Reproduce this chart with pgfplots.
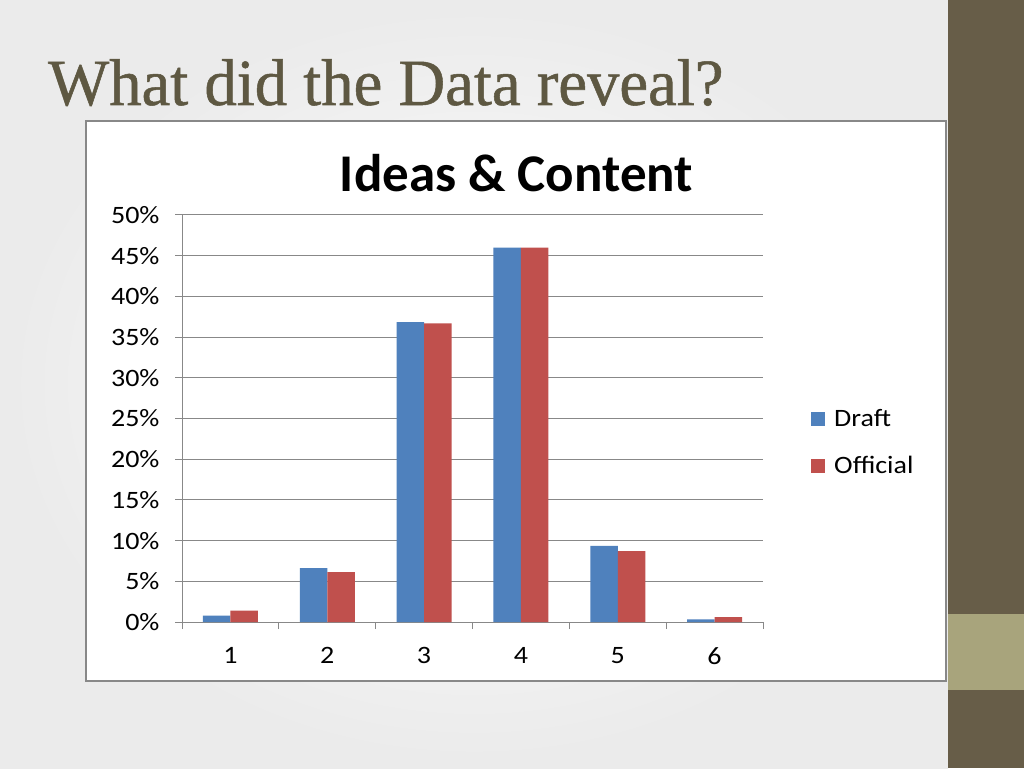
\documentclass[border=0pt]{standalone}
\usepackage{fontspec}
\usepackage{pgfplots}
\pgfplotsset{compat=1.18}
\setmainfont{Carlito}
\newfontfamily\titlefont[FakeStretch=0.98, FakeBold=0.8]{Liberation Serif}
\newfontfamily\chartfont[FakeStretch=1.12]{Carlito}

\definecolor{draftblue}{HTML}{4F81BD}
\definecolor{offred}{HTML}{C0504D}
\definecolor{sidebar}{HTML}{675D48}
\definecolor{sideblock}{HTML}{A8A47C}
\definecolor{titlecol}{HTML}{5E5842}
\definecolor{gridgray}{HTML}{888888}

\begin{document}
\begin{tikzpicture}
% slide background
\useasboundingbox (0,0) rectangle (1024pt,768pt);
\shade[inner color=white, outer color=black!8] (0,0) rectangle (948pt,768pt);
\fill[sidebar] (948pt,0) rectangle (1024pt,768pt);
\fill[sideblock] (948pt,78pt) rectangle (1024pt,154pt);
\node[anchor=base west, inner sep=0, text=titlecol,
      font=\titlefont\fontsize{66}{72}\selectfont] at (48pt,663pt) {What did the Data reveal?};
% chart frame
\filldraw[fill=white, draw=gridgray, line width=2pt] (86pt,87pt) rectangle (946pt,647pt);
\node[anchor=base, inner sep=0, font=\bfseries\fontsize{53}{60}\selectfont]
      at (516.5pt,576pt) {Ideas \& Content};

\begin{axis}[at={(182pt,146pt)}, anchor=south west,
    scale only axis, width=581pt, height=407pt,
    ybar=0pt, bar width=27.5pt,
    xmin=0.5, xmax=6.5, ymin=0, ymax=50,
    xtick={0.5,1.5,...,6.5}, x tick label as interval,
    xticklabels={1,2,3,4,5,6},
    ytick={0,5,...,50},
    yticklabel={\pgfmathprintnumber{\tick}\%},
    /pgf/number format/assume math mode=true,
    ymajorgrids, grid style={gridgray, line width=1pt},
    axis x line*=bottom, axis y line*=left,
    axis line style={gridgray, line width=1pt},
    tick style={gridgray, line width=1pt},
    tick align=outside, major tick length=7pt,
    ticklabel style={font=\chartfont\fontsize{25}{28}\selectfont, text=black},
    yticklabel style={xshift=-12pt},
    xticklabel style={yshift=-15pt},
    legend style={at={(rel axis cs:1.0775,0.532)}, anchor=north west,
        draw=none, fill=none, row sep=24pt,
        font=\chartfont\fontsize{25}{27}\selectfont,
        nodes={inner xsep=9pt}},
    legend cell align=left,
    legend image code/.code={\fill[#1, draw=none] (-9pt,-7pt) rectangle (5pt,7pt);},
]
\addplot[fill=draftblue, draw=none] coordinates
    {(1,0.77) (2,6.63) (3,36.85) (4,46.0) (5,9.35) (6,0.33)};
\addlegendentry{Draft}
\addplot[fill=offred, draw=none] coordinates
    {(1,1.39) (2,6.14) (3,36.7) (4,46.0) (5,8.72) (6,0.6)};
\addlegendentry{Official}
\end{axis}
\end{tikzpicture}
\end{document}
